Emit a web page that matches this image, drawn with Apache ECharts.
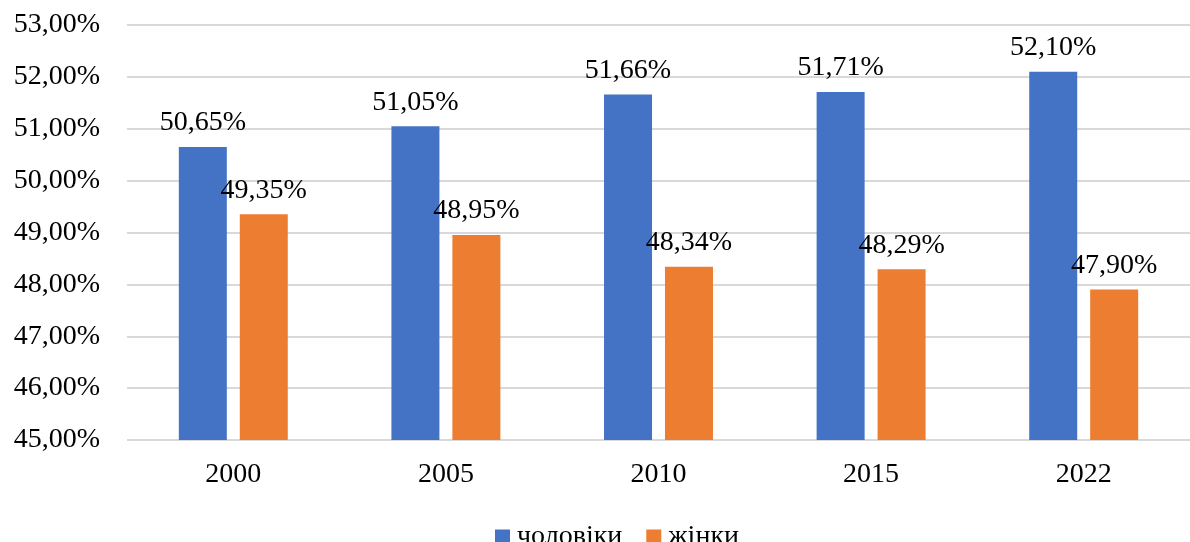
<!DOCTYPE html>
<html>
<head>
<meta charset="utf-8">
<script src="https://cdn.jsdelivr.net/npm/echarts@6/dist/echarts.min.js"></script>
<style>
	html, body { margin: 0; padding: 0; background: #fff; }
	#chart { width: 1190px; height: 542px; }
</style>
</head>
<body>
<div id="chart"></div>
<script>
	var years = [ '2000', '2005', '2010', '2015', '2022' ];
	var men = [ 50.65, 51.05, 51.66, 51.71, 52.10 ];
	var women = [ 49.35, 48.95, 48.34, 48.29, 47.90 ];
	var seriesNames = [ 'чоловіки', 'жінки' ];

	// 50.65 -> "50,65%"
	var pct = function(v) {
		return Number(v).toFixed(2).replace('.', ',') + '%';
	};

	var font = '"Liberation Serif", "Times New Roman", serif';
	var fs = 28;

	var labelOpt = {
		show : true,
		position : 'top',
		distance : 10,
		color : '#000',
		fontFamily : font,
		fontSize : fs,
		formatter : function(p) {
			return pct(p.value);
		}
	};

	var options = {
		animation : false,
		textStyle : {
			fontFamily : font
		},
		legend : {
			data : seriesNames,
			left : 490,
			top : 518,
			itemWidth : 15,
			itemHeight : 15,
			itemGap : 24,
			icon : 'rect',
			textStyle : {
				fontFamily : font,
				fontSize : fs,
				color : '#000',
				padding : [ 0, 0, 0, 2 ]
			}
		},
		grid : {
			left : 127,
			right : 0,
			top : 25,
			bottom : 102
		},
		xAxis : [ {
			type : 'category',
			data : years,
			axisLine : {
				show : false
			},
			axisTick : {
				show : false
			},
			axisLabel : {
				margin : 21,
				color : '#000',
				fontFamily : font,
				fontSize : fs
			}
		} ],
		yAxis : [ {
			type : 'value',
			min : 45,
			max : 53,
			interval : 1,
			axisLine : {
				show : false
			},
			axisTick : {
				show : false
			},
			splitLine : {
				lineStyle : {
					color : '#d9d9d9',
					width : 2
				}
			},
			axisLabel : {
				margin : 27,
				color : '#000',
				fontFamily : font,
				fontSize : fs,
				formatter : pct
			}
		} ],
		series : [ {
			name : seriesNames[0],
			type : 'bar',
			data : men,
			barWidth : 48,
			barGap : '27%',
			itemStyle : {
				color : '#4472C4'
			},
			label : labelOpt
		}, {
			name : seriesNames[1],
			type : 'bar',
			data : women,
			barWidth : 48,
			barGap : '27%',
			itemStyle : {
				color : '#ED7D31'
			},
			label : labelOpt
		} ]
	};

	var chart = echarts.init(document.getElementById('chart'));
	chart.setOption(options);
</script>
</body>
</html>
